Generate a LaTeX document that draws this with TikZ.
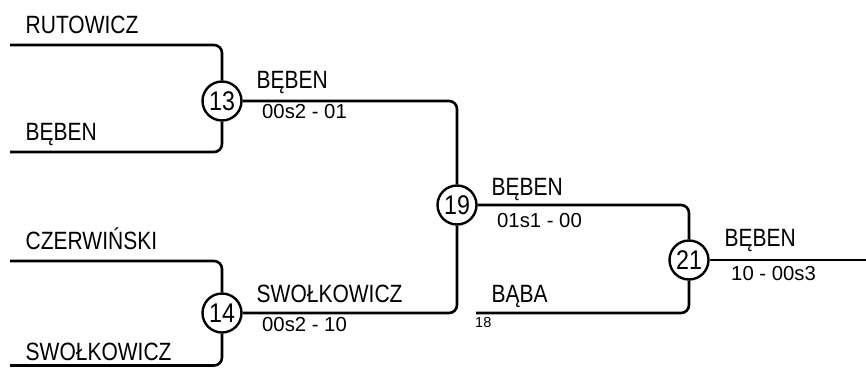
\documentclass[tikz,border=0pt]{standalone}
\usepackage{fontspec}
\setmainfont{Liberation Sans}
\newfontfamily\namefont[FakeStretch=0.84]{Liberation Sans}
\newfontfamily\numfont[FakeStretch=0.86]{Liberation Sans}
\begin{document}
\begin{tikzpicture}[x=1pt,y=-1pt,
  wire/.style={line width=2.6pt,rounded corners=8pt},
  match/.style={circle,draw,line width=2.4pt,fill=white,minimum size=39pt,inner sep=0pt,
    font=\numfont\fontsize{27}{30}\selectfont},
  pname/.style={anchor=base west,inner sep=0pt,font=\namefont\fontsize{25}{30}\selectfont},
  score/.style={anchor=base west,inner sep=0pt,font=\fontsize{20.3}{24}\selectfont},
  seed/.style={anchor=base west,inner sep=0pt,font=\fontsize{14.5}{17}\selectfont}]
\useasboundingbox (0,0) rectangle (866,367);
% coordinates of free ends
\coordinate (a1) at (10,45);
\coordinate (a2) at (10,152);
\coordinate (b1) at (10,261);
\coordinate (b2) at (10,365.5);
\coordinate (c2) at (476,313);
\coordinate (fin) at (866,260);
% match circles
\node[match] (m13) at (222,101) {13};
\node[match] (m14) at (222,313) {14};
\node[match] (m19) at (457,205) {19};
\node[match] (m21) at (689,260) {21};
% connectors
\draw[wire] (a1) -| (m13);
\draw[wire] (a2) -| (m13);
\draw[wire] (b1) -| (m14);
\draw[wire] (b2) -| (m14);
\draw[wire] (m13) -| (m19);
\draw[wire] (m14) -| (m19);
\draw[wire] (m19) -| (m21);
\draw[wire] (c2) -| (m21);
\draw[wire] (m21) -- (fin);
% names
\node[pname] (n1) at (25.5,33) {RUTOWICZ};
\node[pname] (n2) at (25.5,140) {BĘBEN};
\node[pname] (n3) at (25.5,249) {CZERWIŃSKI};
\node[pname] (n4) at (25.5,360) {SWOŁKOWICZ};
\node[pname] (w13) at (256.5,88) {BĘBEN};
\node[score] (s13) at (262,118) {00s2 - 01};
\node[pname] (w14) at (256.5,302.5) {SWOŁKOWICZ};
\node[score] (s14) at (262,331.5) {00s2 - 10};
\node[pname] (w19) at (491.5,195) {BĘBEN};
\node[score] (s19) at (497,227) {01s1 - 00};
\node[pname] (n5) at (491.5,302) {BĄBA};
\node[seed] (sd) at (475,327) {18};
\node[pname] (w21) at (724.5,246) {BĘBEN};
\node[score] (s21) at (731,280) {10 - 00s3};
\end{tikzpicture}
\end{document}
